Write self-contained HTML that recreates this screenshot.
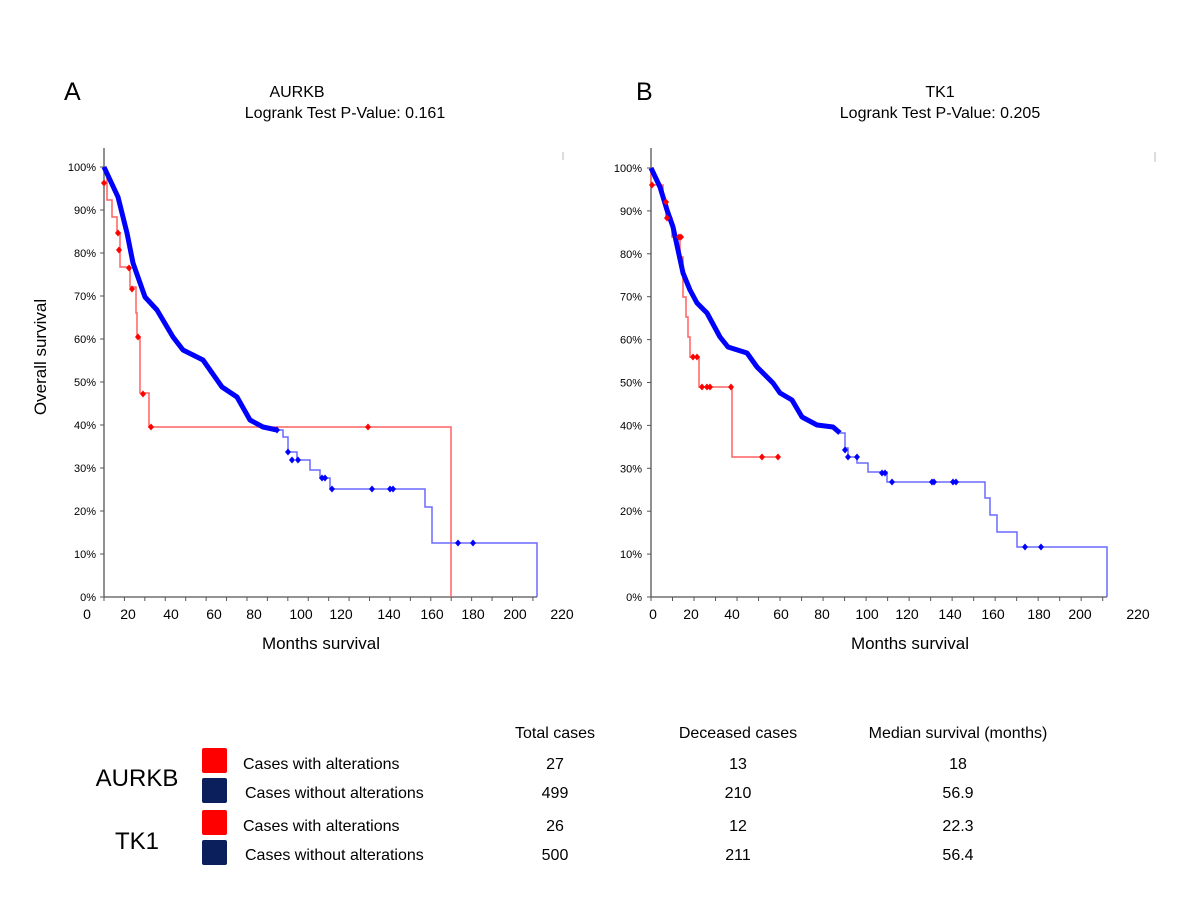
<!DOCTYPE html>
<html><head><meta charset="utf-8"><style>
html,body{margin:0;padding:0;background:#fff;}
svg{display:block;font-family:"Liberation Sans",Arial,sans-serif;}
</style></head><body>
<svg id="s" width="1200" height="901" viewBox="0 0 1200 901" xmlns="http://www.w3.org/2000/svg">
<rect width="1200" height="901" fill="#fff"/>
<text x="64" y="100" font-size="25">A</text>
<text x="297" y="97" font-size="16" text-anchor="middle">AURKB</text>
<text x="345" y="118" font-size="16" text-anchor="middle">Logrank Test P-Value: 0.161</text>
<text x="636" y="100" font-size="25">B</text>
<text x="940" y="97" font-size="16" text-anchor="middle">TK1</text>
<text x="940" y="118" font-size="16" text-anchor="middle">Logrank Test P-Value: 0.205</text>
<text transform="translate(46,357) rotate(-90)" font-size="17" text-anchor="middle">Overall survival</text>
<text x="321" y="649" font-size="17" text-anchor="middle">Months survival</text>
<text x="910" y="649" font-size="17" text-anchor="middle">Months survival</text>
<line x1="563" y1="152" x2="563" y2="160" stroke="#bbb"/>
<line x1="1155" y1="152" x2="1155" y2="162" stroke="#bbb"/>
<g id="g" font-size="11" fill="#000"></g>

<g font-size="16" text-anchor="middle">
<text x="555" y="738">Total cases</text>
<text x="738" y="738">Deceased cases</text>
<text x="958" y="738">Median survival (months)</text>
<text x="555" y="769">27</text><text x="738" y="769">13</text><text x="958" y="769">18</text>
<text x="555" y="798">499</text><text x="738" y="798">210</text><text x="958" y="798">56.9</text>
<text x="555" y="831">26</text><text x="738" y="831">12</text><text x="958" y="831">22.3</text>
<text x="555" y="860">500</text><text x="738" y="860">211</text><text x="958" y="860">56.4</text>
</g>
<text x="137" y="786" font-size="24" text-anchor="middle">AURKB</text>
<text x="137" y="849" font-size="24" text-anchor="middle">TK1</text>
<rect x="202" y="748" width="25" height="25" rx="2" fill="#ff0000"/>
<rect x="202" y="778" width="25" height="25" rx="2" fill="#0a1f5c"/>
<rect x="202" y="810" width="25" height="25" rx="2" fill="#ff0000"/>
<rect x="202" y="840" width="25" height="25" rx="2" fill="#0a1f5c"/>
<g font-size="16">
<text x="243" y="769">Cases with alterations</text>
<text x="245" y="798">Cases without alterations</text>
<text x="243" y="831">Cases with alterations</text>
<text x="245" y="860">Cases without alterations</text>
</g>
</svg>
<script>
var NS="http://www.w3.org/2000/svg",g=document.getElementById("g");
function el(t,a,txt){var e=document.createElementNS(NS,t);for(var k in a)e.setAttribute(k,a[k]);if(txt!=null)e.textContent=txt;g.appendChild(e);return e;}
function panel(x0,xe,y0,ppp,labX,ylabX){
  el("line",{x1:x0,y1:148,x2:x0,y2:y0,stroke:"#555","stroke-width":1.3});
  el("line",{x1:x0,y1:y0,x2:xe,y2:y0,stroke:"#555","stroke-width":1.3});
  for(var p=0;p<=100;p+=10){var y=y0-p*ppp;el("line",{x1:x0-4,y1:y,x2:x0,y2:y,stroke:"#555"});
    el("text",{x:ylabX,y:y+4,"text-anchor":"end"},p+"%");}
  var pm=(xe-x0)/212;
  for(var m=0;m<=210;m+=10){var x=x0+m*pm;el("line",{x1:x,y1:y0,x2:x,y2:y0+4,stroke:"#555"});}
  for(var i=0;i<labX.length;i++)el("text",{x:labX[i],y:619,"font-size":14,"text-anchor":"middle"},String(i*20));
}
function line(pts,col,w){var d="";for(var i=0;i<pts.length;i++)d+=(i?" L":"M")+pts[i][0]+","+pts[i][1];
  el("path",{d:d,fill:"none",stroke:col,"stroke-width":w,"stroke-linejoin":"round"});}
function step(pts,col,w){var d="M"+pts[0][0]+","+pts[0][1];
  for(var i=1;i<pts.length;i++){d+=" L"+pts[i][0]+","+pts[i-1][1]+" L"+pts[i][0]+","+pts[i][1];}
  el("path",{d:d,fill:"none",stroke:col,"stroke-width":w});}
function dia(x,y,col){el("path",{d:"M"+(x-3)+","+y+" L"+x+","+(y-3.5)+" L"+(x+3)+","+y+" L"+x+","+(y+3.5)+"Z",fill:col});}

panel(104,537,597,4.3,[87,128,171,214,254,301,341,389,432,473,515,562],96);
step([[104,170],[107,182],[107,200],[112,217],[117,233],[120,267],[130,287],[136,313],[137,337],[140,393],[149,427],[451,427],[451,597]],"#ff6060",1.5);
[[104,183],[118,233],[119,250],[129,268],[132,289],[138,337],[143,394],[151,427],[368,427]].forEach(function(q){dia(q[0],q[1],"#ff0000")});
line([[104,167],[118,197],[127,233],[133,263],[145,297],[157,310],[173,337],[183,350],[203,360],[222,387],[237,397],[250,420],[263,427],[277,430]],"#0000ff",5);
step([[277,430],[283,437],[288,452],[297,460],[310,470],[320,478],[330,489],[418,489],[425,507],[432,525],[432,543],[537,543],[537,597]],"#6a6aff",1.5);
[[277,430],[288,452],[292,460],[298,460],[322,478],[325,478],[332,489],[372,489],[390,489],[393,489],[458,543],[473,543]].forEach(function(q){dia(q[0],q[1],"#0000ff")});

panel(651,1107,597,4.29,[653,691,732,781,822,867,907,950,993,1039,1080,1138],642);
step([[651,168],[651,185],[663,185],[663,202],[666,218],[672,237],[680,257],[683,297],[686,317],[688,337],[690,357],[699,357],[699,387],[732,387],[732,457],[778,457]],"#ff6060",1.5);
line([[651,168],[660,187],[667,210],[673,227],[678,250],[683,273],[690,290],[697,303],[707,313],[720,337],[728,347],[747,353],[757,367],[773,383],[780,393],[792,400],[802,417],[817,425],[833,427],[840,433]],"#0000ff",5);
step([[840,433],[845,448],[848,457],[857,463],[868,472],[887,482],[984,482],[985,498],[990,515],[997,532],[1017,547],[1107,547],[1107,597]],"#6a6aff",1.5);
[[845,450],[848,457],[857,457],[882,473],[885,473],[892,482],[932,482],[934,482],[953,482],[956,482],[1025,547],[1041,547]].forEach(function(q){dia(q[0],q[1],"#0000ff")});
[[652,185],[666,202],[667,218],[679,237],[681,237],[693,357],[697,357],[702,387],[707,387],[710,387],[731,387],[762,457],[778,457]].forEach(function(q){dia(q[0],q[1],"#ff0000")});
</script>
</body></html>
